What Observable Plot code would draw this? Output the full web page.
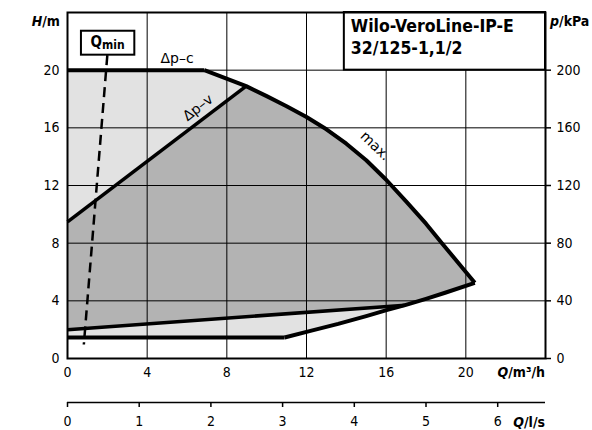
<!DOCTYPE html>
<html><head><meta charset="utf-8">
<script src="https://cdn.jsdelivr.net/npm/d3@7"></script>
<script src="https://cdn.jsdelivr.net/npm/@observablehq/plot@0.6"></script>
<style>
body{margin:0;background:#fff}
#chart{width:592px;height:430px}
</style>
</head><body><div id="chart"></div>
<script>
// ---- tick labels ----
const qTicks = [0, 4, 8, 12, 16, 20];          // Q in m³/h
const hTicks = [0, 4, 8, 12, 16, 20];          // H in m
const pTicks = [0, 40, 80, 120, 160, 200];     // p in kPa
const lsTicks = [0, 1, 2, 3, 4, 5, 6];         // Q in l/s
const LS_TO_M3H = 3.6;

// ---- curves (Q m³/h, H m) ----
const maxQ = [6.87, 8.97, 10.0, 11.0, 12.0, 13.0, 14.0, 15.0, 16.0, 17.0, 18.0, 18.8, 20.0, 20.45];
const maxH = [20.0, 18.89, 18.2, 17.5, 16.75, 15.9, 14.9, 13.75, 12.4, 10.9, 9.35, 8.0, 6.0, 5.25];
const minQ = [10.9, 12.2, 13.59, 15.0, 16.02, 16.95, 18.0, 18.96, 20.45];
const minH = [1.46, 1.92, 2.40, 2.94, 3.36, 3.70, 4.14, 4.56, 5.25];
const dpcMaxQ = [0, 6.87],  dpcMaxH = [20, 20];
const dpvMaxQ = [0, 8.97],  dpvMaxH = [9.48, 18.89];
const dpcMinQ = [0, 10.9],  dpcMinH = [1.46, 1.46];
const dpvMinQ = [0, 16.95], dpvMinH = [2.0, 3.70];
const qminQ = [2.0, 0.82],  qminH = [21.04, 0.97];

const zip = (qs, hs) => qs.map((q, i) => ({q, h: hs[i]}));
const maxPts = zip(maxQ, maxH), minPts = zip(minQ, minH);

// light region (Δp-c range)
const lightPoly = [
  ...zip(dpcMaxQ, dpcMaxH),
  ...maxPts.slice(1),
  ...minPts.slice().reverse().slice(1),
  ...zip(dpcMinQ, dpcMinH).reverse()
];
// dark region (Δp-v range)
const iV = maxQ.indexOf(dpvMaxQ[1]);
const iM = minQ.indexOf(dpvMinQ[1]);
const darkPoly = [
  ...zip(dpvMaxQ, dpvMaxH),
  ...maxPts.slice(iV + 1),
  ...minPts.slice(iM, minPts.length - 1).reverse(),
  ...zip(dpvMinQ, dpvMinH).reverse()
];

const FONT = "'DejaVu Sans Condensed', 'DejaVu Sans', sans-serif";
const thick = {x: "q", y: "h", stroke: "#000", strokeWidth: 4, strokeLinejoin: "miter", strokeLinecap: "butt"};

const chart = Plot.plot({
  width: 592, height: 430,
  marginLeft: 67, marginRight: 47, marginTop: 12, marginBottom: 72,
  x: {domain: [0, 24], label: null},
  y: {domain: [0, 24], label: null},
  style: {fontFamily: FONT, fontSize: "14px", color: "#000", background: "#fff"},
  marks: [
    Plot.line(lightPoly, {x: "q", y: "h", fill: "#e2e2e2", stroke: "none"}),
    Plot.line(darkPoly, {x: "q", y: "h", fill: "#b3b3b3", stroke: "none"}),
    Plot.gridX(qTicks.slice(1), {stroke: "#000", strokeOpacity: 1, strokeWidth: 1}),
    Plot.gridY(hTicks.slice(1), {stroke: "#000", strokeOpacity: 1, strokeWidth: 1}),
    Plot.line(zip(dpcMaxQ, dpcMaxH), thick),
    Plot.line(maxPts, {...thick, strokeLinejoin: "round"}),
    Plot.line(zip(dpvMaxQ, dpvMaxH), {...thick, strokeWidth: 3.5}),
    Plot.line(zip(dpcMinQ, dpcMinH), thick),
    Plot.line(minPts, {...thick, strokeLinejoin: "round"}),
    Plot.line(zip(dpvMinQ, dpvMinH), {...thick, strokeWidth: 3.5}),
    Plot.line(zip(qminQ, qminH), {x: "q", y: "h", stroke: "#000", strokeWidth: 2.5, strokeDasharray: "10,6", strokeLinecap: "butt"}),
    // title box and Qmin box
    Plot.rect([{x1: 13.9, x2: 24, y1: 20, y2: 24}], {x1: "x1", x2: "x2", y1: "y1", y2: "y2", fill: "#fff", stroke: "#000", strokeWidth: 2}),
    Plot.rect([{x1: 0.7, x2: 3.38, y1: 21.04, y2: 22.7}], {x1: "x1", x2: "x2", y1: "y1", y2: "y2", fill: "#fff", stroke: "#000", strokeWidth: 2}),
    // curve labels
    Plot.text(["Δp–c"], {x: 5.5, y: 20.8, fontSize: 14, fontFamily: "'DejaVu Sans', sans-serif", textAnchor: "middle"}),
    Plot.text(["Δp–v"], {x: 6.55, y: 17.4, fontSize: 14, fontFamily: "'DejaVu Sans', sans-serif", rotate: -38, textAnchor: "middle"}),
    Plot.text(["max."], {x: 15.45, y: 14.75, fontSize: 14, fontFamily: "'DejaVu Sans', sans-serif", rotate: 44, textAnchor: "middle"}),
    Plot.frame({stroke: "#000", strokeWidth: 2}),
    // axes
    Plot.axisY(hTicks, {anchor: "left", tickSize: 0, tickPadding: 8, fontSize: 14}),
    Plot.axisY(hTicks, {anchor: "right", tickSize: 5, tickPadding: 6, fontSize: 14, strokeWidth: 1.5,
      tickFormat: d => String(pTicks[hTicks.indexOf(d)])}),
    Plot.axisX(qTicks, {anchor: "bottom", tickSize: 0, tickPadding: 9, fontSize: 14}),
    Plot.ruleY([0], {dy: 44, stroke: "#000", strokeWidth: 1.5}),
    Plot.axisX(lsTicks.map(v => v * LS_TO_M3H), {anchor: "bottom", tickSize: 5, tickPadding: 9, dy: 44, fontSize: 14, strokeWidth: 1.5,
      tickFormat: d => String(lsTicks[Math.round(d / LS_TO_M3H)])})
  ]
});
document.getElementById("chart").appendChild(chart);

// ---- labels with mixed styling ----
const svg = d3.select(chart);
const g = svg.append("g").attr("font-family", FONT).attr("font-weight", "bold").attr("fill", "#000");
function label(x, y, anchor, parts, size) {
  const t = g.append("text").attr("x", x).attr("y", y).attr("text-anchor", anchor).attr("font-size", size);
  parts.forEach(([s, italic]) => t.append("tspan").attr("font-style", italic ? "italic" : "normal").text(s));
  return t;
}
label(60, 26, "end", [["H", true], ["/m", false]], 14);
label(550, 26, "start", [["p", true], ["/kPa", false]], 14);
label(545, 377, "end", [["Q", true], ["/m³/h", false]], 14);
label(545, 427, "end", [["Q", true], ["/l/s", false]], 14);

// Qmin
const X = chart.scale("x"), Y = chart.scale("y");
const qm = g.append("text").attr("x", (X.apply(0.7) + X.apply(3.38)) / 2).attr("y", 47).attr("text-anchor", "middle");
qm.append("tspan").attr("font-size", 15).text("Q");
qm.append("tspan").attr("font-size", 12).attr("dy", 2).text("min");

// title
const tx = X.apply(13.9) + 7;
g.append("text").attr("x", tx).attr("y", 32).attr("text-anchor", "start").attr("font-size", 17.5).text("Wilo-VeroLine-IP-E");
g.append("text").attr("x", tx).attr("y", 54).attr("text-anchor", "start").attr("font-size", 17.5).text("32/125-1,1/2");
</script>
</body></html>
